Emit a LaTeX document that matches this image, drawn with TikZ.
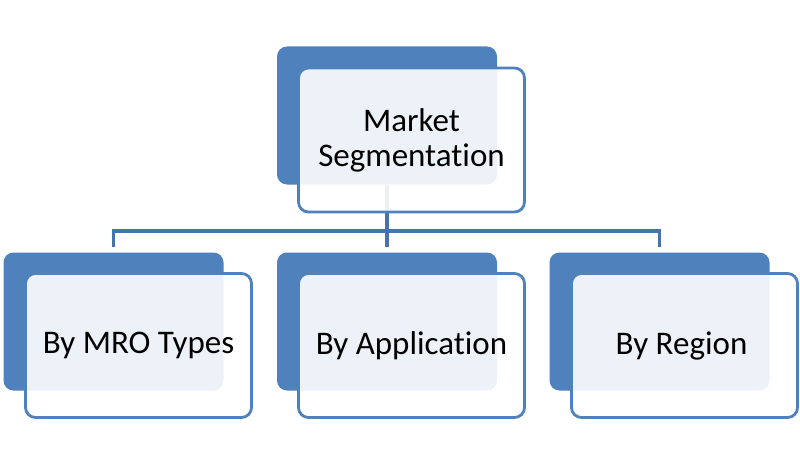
\documentclass[tikz,border=0pt]{standalone}
\usepackage{fontspec}
\setmainfont{Carlito}[Ligatures=NoCommon]
\usetikzlibrary{backgrounds}
\definecolor{accent}{HTML}{4F81BD}
\definecolor{connc}{HTML}{4673AB}
\tikzset{
  backbox/.style={fill=accent, draw=none, rounded corners=10pt, minimum width=220pt, minimum height=138pt, inner sep=0pt},
  frontbox/.style={fill=white, fill opacity=0.9, text opacity=1, draw=accent, line width=2.8pt, rounded corners=10pt, minimum width=226pt, minimum height=144pt, inner sep=0pt, align=center, font=\fontsize{33}{35}\selectfont, text=black},
  conn/.style={draw=connc, line width=3.3pt}
}
\begin{document}
\begin{tikzpicture}[x=1pt,y=-1pt]
\useasboundingbox (0,0) rectangle (800,460);
% back boxes
\node[backbox] (tb) at (387,115.5) {};
\node[backbox] (lb) at (113.5,321.5) {};
\node[backbox] (mb) at (387,321.5) {};
\node[backbox] (rb) at (659.5,321.5) {};
% connectors, behind the boxes
\coordinate (hy) at (387,231);
\begin{scope}[on background layer]
  \fill[white] (0,0) rectangle (800,460);
  \draw[conn] (tb.south) -- (tb.south |- hy);
  \draw[conn] ([xshift=-1.65pt]lb.north |- hy) -- ([xshift=1.65pt]rb.north |- hy);
  \draw[conn] (lb.north |- hy) -- ([yshift=5pt]lb.north);
  \draw[conn] (mb.north |- hy) -- ([yshift=5pt]mb.north);
  \draw[conn] (rb.north |- hy) -- ([yshift=5pt]rb.north);
\end{scope}
% front boxes
\node[frontbox] (tf) at (411.5,140) {Market\\Segmentation};
\node[frontbox] (lf) at (138.5,345.5) {By MRO Types};
\node[frontbox] (mf) at (411.5,345.5) {By Application};
\node[frontbox] (rf) at (684.5,345.5) {\hspace*{-6pt}By Region};
\end{tikzpicture}
\end{document}
